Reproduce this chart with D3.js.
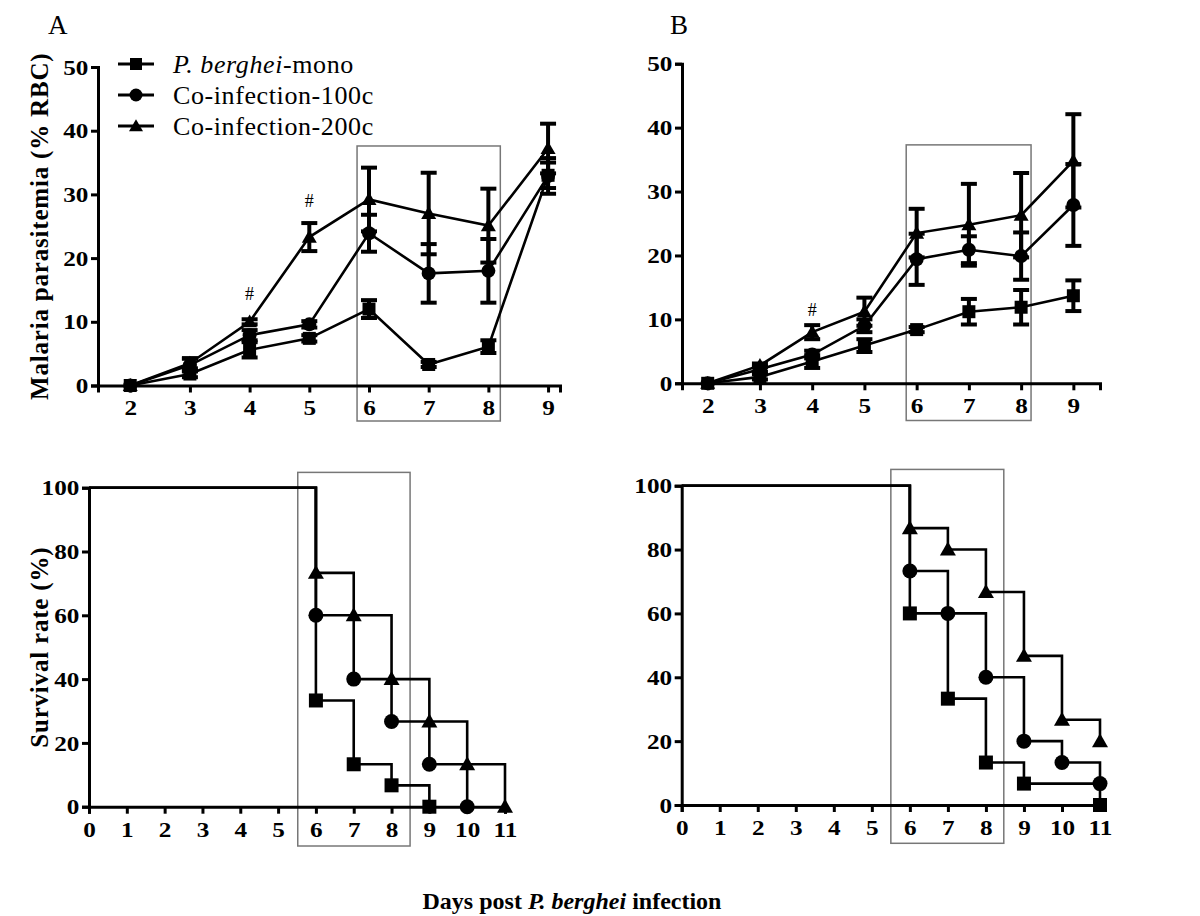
<!DOCTYPE html>
<html lang="en">
<head>
<meta charset="UTF-8">
<title>Parasitemia and survival</title>
<script src="https://d3js.org/d3.v7.min.js"></script>
<style>
  body { margin: 0; background: #fff; }
  svg { font-family: "Liberation Serif", "Times New Roman", serif; }
  .axis path, .axis line { stroke: #000; stroke-width: 3; }
  .axis text { font-size: 21px; font-weight: bold; fill: #000; }
  .series { fill: none; stroke: #000; stroke-width: 2.6; }
  .err { stroke: #000; stroke-width: 4; }
  .box { fill: none; stroke: #777; stroke-width: 1.5; }
</style>
</head>
<body>
<svg width="1200" height="916"></svg>
<script>
// ---- data ----
var days = [2, 3, 4, 5, 6, 7, 8, 9];

// panel A, parasitemia (% RBC), mean and error
var monoA     = [0, 1.8, 5.6, 7.4, 12.0, 3.3, 6.1, 33.0];
var monoAErr  = [0, 0.5, 1.2, 0.5, 1.4, 0.4, 1.0, 2.0];
var co100A    = [0, 3.2, 7.9, 9.6, 23.9, 17.6, 18.0, 32.9];
var co100AErr = [0, 1.0, 0.8, 0.5, 2.9, 4.6, 5.0, 2.8];
var co200A    = [0, 3.5, 10.0, 23.3, 29.2, 27.0, 25.1, 37.2];
var co200AErr = [0, 0.8, 0.4, 2.2, 5.0, 6.4, 5.8, 3.9];

// panel B
var monoB     = [0, 1.0, 3.4, 5.9, 8.4, 11.2, 11.9, 13.7];
var monoBErr  = [0, 0.4, 1.0, 1.0, 0.4, 2.0, 2.7, 2.4];
var co100B    = [0, 2.2, 4.5, 9.0, 19.4, 20.9, 19.9, 27.9];
var co100BErr = [0, 0.4, 0.6, 1.0, 4.0, 2.1, 3.7, 6.4];
var co200B    = [0, 2.8, 8.0, 11.2, 23.5, 24.8, 26.3, 34.8];
var co200BErr = [0, 0.3, 1.1, 2.2, 3.8, 6.4, 6.6, 7.3];

// survival (%), Kaplan-Meier steps: day of drop and value after drop
var survMonoADays  = [6, 7, 8, 9];
var survMonoA      = [33.3, 13.3, 6.7, 0];
var surv100ADays   = [6, 7, 8, 9, 10];
var surv100A       = [60, 40, 26.7, 13.3, 0];
var surv200ADays   = [6, 7, 8, 9, 10, 11];
var surv200A       = [73.3, 60, 40, 26.7, 13.3, 0];

var survMonoBDays  = [6, 7, 8, 9, 11];
var survMonoB      = [60, 33.3, 13.3, 6.7, 0];
var surv100BDays   = [6, 7, 8, 9, 10, 11];
var surv100B       = [73.3, 60, 40, 20, 13.3, 6.7];
var surv200BDays   = [6, 7, 8, 9, 10, 11];
var surv200B       = [86.7, 80, 66.7, 46.7, 26.7, 20];

var survTicksX = d3.range(0, 12);
var survTicksY = [0, 20, 40, 60, 80, 100];
var paraTicksY = [0, 10, 20, 30, 40, 50];

var seriesNames = ["P. berghei", "Co-infection-100c", "Co-infection-200c"];
var shapes = ["square", "circle", "triangle"];

var serif = '"Liberation Serif", "Times New Roman", serif';
var svg = d3.select("svg");

// ---- helpers ----
function marker(g, shape, cx, cy, s) {
    if (shape == "square") {
        g.append("rect").attr("x", cx - s / 2).attr("y", cy - s / 2)
            .attr("width", s).attr("height", s).attr("fill", "#000");
    } else if (shape == "circle") {
        g.append("circle").attr("cx", cx).attr("cy", cy).attr("r", s / 2 + 0.5).attr("fill", "#000");
    } else {
        var h = s * 0.95;
        g.append("path")
            .attr("d", "M" + cx + "," + (cy - h * 0.6) + "L" + (cx + s / 2 + 1) + "," + (cy + h * 0.45) +
                       "L" + (cx - s / 2 - 1) + "," + (cy + h * 0.45) + "Z")
            .attr("fill", "#000");
    }
}

function drawAxes(x, y, xticks, yticks) {
    var gx = svg.append("g").attr("class", "axis")
        .attr("transform", "translate(0," + y.range()[0] + ")")
        .call(d3.axisBottom(x).tickValues(xticks).tickSizeOuter(0).tickSize(7).tickPadding(4).tickFormat(d3.format("d")));
    var gy = svg.append("g").attr("class", "axis")
        .attr("transform", "translate(" + x.range()[0] + ",0)")
        .call(d3.axisLeft(y).tickValues(yticks).tickSizeOuter(0).tickSize(7).tickPadding(1).tickFormat(d3.format("d")));
    [gx, gy].forEach(function (g) {
        g.attr("font-family", null).attr("font-size", null);
        // the original digits are drawn a little wide
        g.selectAll("text").style("font-family", serif).attr("transform", "scale(1.2,1)");
    });
    gx.selectAll("text").attr("dy", "0.9em");
    gy.selectAll("text").attr("dy", "0.34em");
}

function drawBox(x, y, x0, x1, ytop, bottomPx) {
    svg.append("rect").attr("class", "box")
        .attr("x", x(x0)).attr("y", y(ytop))
        .attr("width", x(x1) - x(x0)).attr("height", bottomPx - y(ytop));
}

function paraPanel(x, y, groups) {
    drawAxes(x, y, days, paraTicksY);
    var line = d3.line().x(function (d) { return x(d[0]); }).y(function (d) { return y(d[1]); });
    groups.forEach(function (gr) {
        var pts = days.map(function (d, i) { return [d, gr.mean[i]]; });
        svg.append("path").attr("class", "series").attr("d", line(pts));
    });
    groups.forEach(function (gr) {
        var g = svg.append("g");
        days.forEach(function (d, i) {
            var e = gr.err[i];
            if (e <= 0) return;
            var cx = x(d), lo = y(gr.mean[i] - e), hi = y(gr.mean[i] + e);
            g.append("line").attr("class", "err").attr("x1", cx).attr("x2", cx).attr("y1", lo).attr("y2", hi);
            g.append("line").attr("class", "err").attr("x1", cx - 8).attr("x2", cx + 8).attr("y1", lo).attr("y2", lo);
            g.append("line").attr("class", "err").attr("x1", cx - 8).attr("x2", cx + 8).attr("y1", hi).attr("y2", hi);
        });
    });
    groups.forEach(function (gr) {
        var g = svg.append("g");
        days.forEach(function (d, i) { marker(g, gr.shape, x(d), y(gr.mean[i]), 13); });
    });
}

function survPanel(x, y, groups) {
    drawAxes(x, y, survTicksX, survTicksY);
    var line = d3.line().curve(d3.curveStepAfter)
        .x(function (d) { return x(d[0]); }).y(function (d) { return y(d[1]); });
    groups.forEach(function (gr) {
        var pts = [[0, 100]].concat(gr.days.map(function (d, i) { return [d, gr.vals[i]]; }));
        svg.append("path").attr("class", "series").attr("d", line(pts));
    });
    groups.forEach(function (gr) {
        var g = svg.append("g");
        gr.days.forEach(function (d, i) { marker(g, gr.shape, x(d), y(gr.vals[i]), 14); });
    });
}

// ---- panel A top ----
var xA = d3.scaleLinear().domain([1.46, 9.2]).range([98, 560]);
var yA = d3.scaleLinear().domain([0, 50]).range([385.5, 67]);
drawBox(xA, yA, 5.8, 8.2, 37.6, 421);
paraPanel(xA, yA, [
    {mean: monoA, err: monoAErr, shape: "square"},
    {mean: co100A, err: co100AErr, shape: "circle"},
    {mean: co200A, err: co200AErr, shape: "triangle"}
]);
svg.append("text").attr("x", xA(4)).attr("y", yA(co200A[2] + 3.5)).attr("text-anchor", "middle")
    .style("font-size", "18px").text("#");
svg.append("text").attr("x", xA(5)).attr("y", yA(co200A[3] + 4.8)).attr("text-anchor", "middle")
    .style("font-size", "18px").text("#");

// ---- panel B top ----
var xB = d3.scaleLinear().domain([1.508, 9.51]).range([682, 1100]);
var yB = d3.scaleLinear().domain([0, 50]).range([383.3, 63.7]);
drawBox(xB, yB, 5.8, 8.19, 37.3, 420.5);
paraPanel(xB, yB, [
    {mean: monoB, err: monoBErr, shape: "square"},
    {mean: co100B, err: co100BErr, shape: "circle"},
    {mean: co200B, err: co200BErr, shape: "triangle"}
]);
svg.append("text").attr("x", xB(4)).attr("y", yB(co200B[2] + 2.6)).attr("text-anchor", "middle")
    .style("font-size", "18px").text("#");

// ---- survival A ----
var xSA = d3.scaleLinear().domain([0, 11]).range([89, 505]);
var ySA = d3.scaleLinear().domain([0, 100]).range([806.7, 487.7]);
drawBox(xSA, ySA, 5.52, 8.49, 104.8, 846);
survPanel(xSA, ySA, [
    {days: survMonoADays, vals: survMonoA, shape: "square"},
    {days: surv100ADays, vals: surv100A, shape: "circle"},
    {days: surv200ADays, vals: surv200A, shape: "triangle"}
]);

// ---- survival B ----
var xSB = d3.scaleLinear().domain([0, 11]).range([681.7, 1100]);
var ySB = d3.scaleLinear().domain([0, 100]).range([805, 485.7]);
drawBox(xSB, ySB, 5.5, 8.47, 105.1, 843.3);
survPanel(xSB, ySB, [
    {days: survMonoBDays, vals: survMonoB, shape: "square"},
    {days: surv100BDays, vals: surv100B, shape: "circle"},
    {days: surv200BDays, vals: surv200B, shape: "triangle"}
]);

// ---- panel letters and titles ----
svg.append("text").attr("x", 48).attr("y", 34).style("font-size", "27px").text("A");
svg.append("text").attr("x", 670).attr("y", 34).style("font-size", "27px").text("B");

svg.append("text")
    .attr("transform", "translate(48," + ((yA(0) + yA(50)) / 2) + ") rotate(-90)")
    .attr("text-anchor", "middle").style("font-size", "25px").style("font-weight", "bold")
    .style("letter-spacing", "0.8px")
    .text("Malaria parasitemia (% RBC)");

svg.append("text")
    .attr("transform", "translate(48," + ((ySA(0) + ySA(100)) / 2) + ") rotate(-90)")
    .attr("text-anchor", "middle").style("font-size", "25px").style("font-weight", "bold")
    .style("letter-spacing", "0.8px")
    .text("Survival rate (%)");

var xl = svg.append("text").attr("x", 572).attr("y", 909).attr("text-anchor", "middle")
    .style("font-size", "24px").style("font-weight", "bold");
xl.append("tspan").text("Days post ");
xl.append("tspan").style("font-style", "italic").text("P. berghei");
xl.append("tspan").text(" infection");

// ---- legend ----
var legend = svg.append("g");
shapes.forEach(function (s, i) {
    var ly = 64 + i * 31;
    legend.append("line").attr("x1", 118).attr("x2", 154).attr("y1", ly).attr("y2", ly)
        .attr("stroke", "#000").attr("stroke-width", 3);
    marker(legend, s, 136, ly, 12);
    var t = legend.append("text").attr("x", 173).attr("y", ly).attr("dy", "0.35em")
        .style("font-size", "26px").style("letter-spacing", "0.6px");
    if (i == 0) {
        t.append("tspan").style("font-style", "italic").text(seriesNames[0]);
        t.append("tspan").text("-mono");
    } else {
        t.text(seriesNames[i]);
    }
});
</script>
</body>
</html>
